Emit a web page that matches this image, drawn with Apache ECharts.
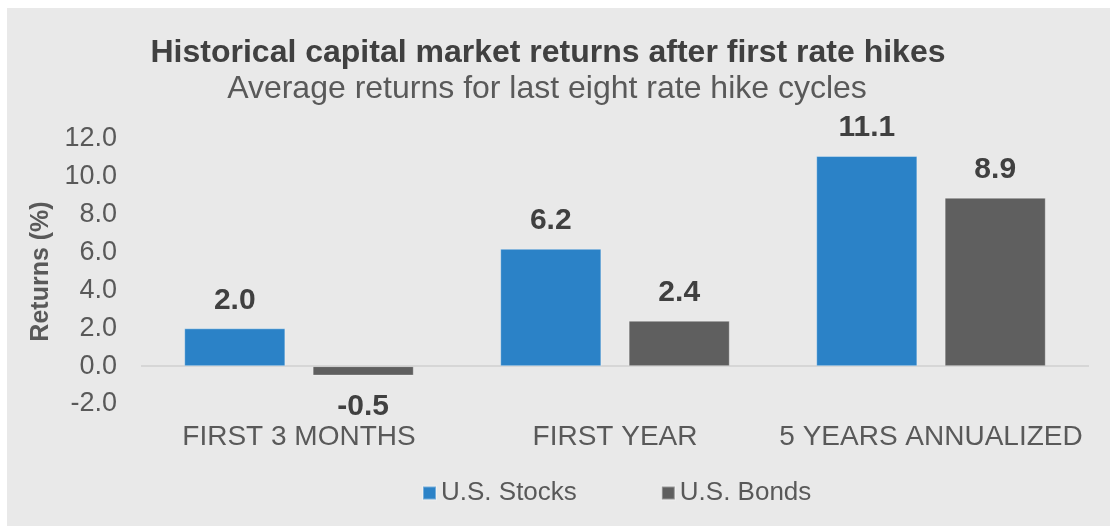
<!DOCTYPE html>
<html>
<head>
<meta charset="utf-8">
<script src="https://cdn.jsdelivr.net/npm/echarts@6/dist/echarts.min.js"></script>
<style>
  html, body { margin: 0; padding: 0; background: #ffffff; }
  #chart { width: 1110px; height: 526px; }
</style>
</head>
<body>
<div id="chart"></div>
<script>
const titleText = 'Historical capital market returns after first rate hikes';
const subtitleText = 'Average returns for last eight rate hike cycles';
const categories = ['FIRST 3 MONTHS', 'FIRST YEAR', '5 YEARS ANNUALIZED'];
const stocks = [2.0, 6.2, 11.1];
const bonds = [-0.5, 2.4, 8.9];
const seriesNames = ['U.S. Stocks', 'U.S. Bonds'];
const yAxisName = 'Returns (%)';
const yMin = -2, yMax = 12, yInterval = 2;

const FONT = '"Liberation Sans", Arial, Helvetica, sans-serif';

function toItems(arr) {
  return arr.map(v => v < 0 ? { value: v, label: { position: 'bottom', distance: 16 } } : v);
}

const labelStyle = {
  show: true,
  position: 'top',
  distance: 13,
  fontFamily: FONT,
  fontSize: 30,
  fontWeight: 'bold',
  color: '#404040',
  formatter: p => Number(p.value).toFixed(1)
};

const chart = echarts.init(document.getElementById('chart'), null, { renderer: 'canvas' });
chart.setOption({
  backgroundColor: '#ffffff',
  animation: false,
  graphic: [
    { type: 'rect', z: -10, silent: true, shape: { x: 7, y: 8, width: 1103, height: 518 }, style: { fill: '#e9e9e9' } },
    { type: 'text', silent: true, style: { x: 548, y: 53, text: titleText, textAlign: 'center', textVerticalAlign: 'middle', fontFamily: FONT, fontSize: 32, fontWeight: 'bold', fill: '#404040' } },
    { type: 'text', silent: true, style: { x: 547, y: 89, text: subtitleText, textAlign: 'center', textVerticalAlign: 'middle', fontFamily: FONT, fontSize: 32, fill: '#595959' } }
  ],
  legend: {
    data: seriesNames,
    left: 417,
    top: 475,
    itemWidth: 13,
    itemHeight: 13,
    itemGap: 84,
    icon: 'rect',
    textStyle: { fontFamily: FONT, fontSize: 26, color: '#595959' }
  },
  grid: { left: 141, right: 21, top: 139, bottom: 122, containLabel: false },
  xAxis: {
    type: 'category',
    data: categories,
    position: 'bottom',
    axisLine: { show: false, onZero: false },
    axisTick: { show: false },
    axisLabel: { margin: 19, fontFamily: FONT, fontSize: 28, color: '#595959', interval: 0 },
    splitLine: { show: false }
  },
  yAxis: {
    type: 'value',
    min: yMin,
    max: yMax,
    interval: yInterval,
    name: yAxisName,
    nameLocation: 'middle',
    nameGap: 86,
    nameTextStyle: { fontFamily: FONT, fontSize: 25, fontWeight: 'bold', color: '#595959' },
    axisLine: { show: false },
    axisTick: { show: false },
    splitLine: { show: false },
    axisLabel: { margin: 24, fontFamily: FONT, fontSize: 27, color: '#595959', padding: [5, 0, 0, 0], formatter: v => v.toFixed(1) }
  },
  series: [
    {
      name: seriesNames[0],
      type: 'bar',
      data: toItems(stocks),
      barWidth: '32%',
      barGap: '27%',
      itemStyle: { color: '#2b82c7', borderColor: 'rgba(255,255,255,0.35)', borderWidth: 1 },
      label: labelStyle,
      markLine: {
        silent: true,
        symbol: ['none', 'none'],
        label: { show: false },
        lineStyle: { color: '#d6d6d6', width: 2, type: 'solid' },
        data: [{ yAxis: 0 }],
        z: 1
      }
    },
    {
      name: seriesNames[1],
      type: 'bar',
      data: toItems(bonds),
      barWidth: '32%',
      barGap: '27%',
      itemStyle: { color: '#5f5f5f', borderColor: 'rgba(255,255,255,0.35)', borderWidth: 1 },
      label: labelStyle
    }
  ]
});
</script>
</body>
</html>
